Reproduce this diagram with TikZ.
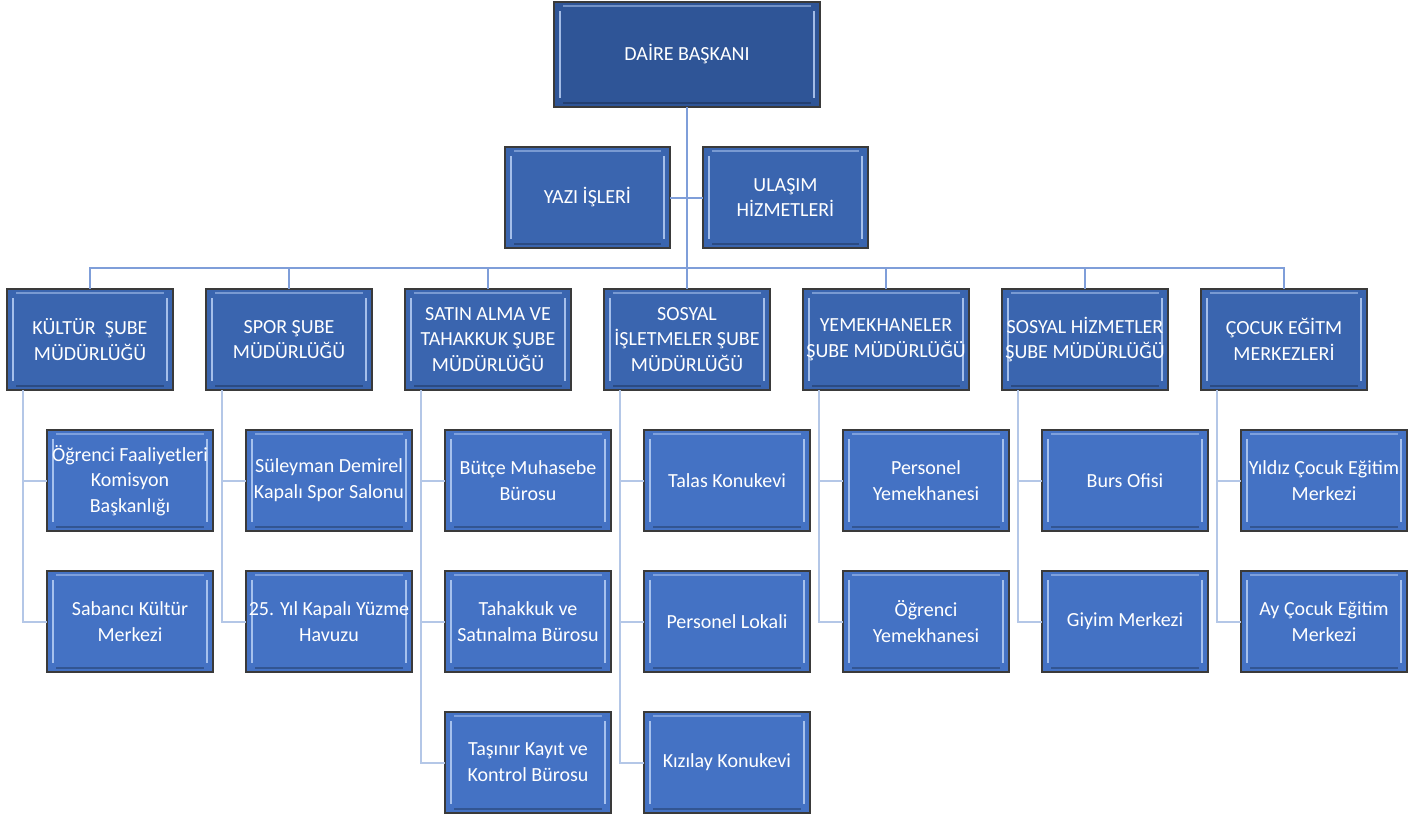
\documentclass[tikz,border=0pt]{standalone}
\usepackage{fontspec}
\setmainfont{Carlito}
\definecolor{topfill}{HTML}{2F5597}
\definecolor{midfill}{HTML}{3A65AF}
\definecolor{childfill}{HTML}{4472C4}
\definecolor{boxborder}{HTML}{3A3A3A}
\definecolor{busline}{HTML}{7F9ED9}
\definecolor{subline}{HTML}{B4C7E7}
\definecolor{hilite}{HTML}{B8CFF5}
\begin{document}
\begin{tikzpicture}[x=1pt,y=-1pt,
  orgbox/.style={draw=boxborder, line width=1.4pt, text=white, align=center,
    font=\fontsize{20}{25.8}\selectfont, inner sep=0pt, outer sep=0pt,
    minimum width=166pt, minimum height=101pt,
    path picture={
      \draw[hilite, line width=2.8pt, opacity=0.85]
        ([xshift=6pt,yshift=-9pt]path picture bounding box.north west) --
        ([xshift=6pt,yshift=9pt]path picture bounding box.south west);
      \draw[hilite, line width=2.8pt, opacity=0.85]
        ([xshift=-6pt,yshift=-9pt]path picture bounding box.north east) --
        ([xshift=-6pt,yshift=9pt]path picture bounding box.south east);
      \draw[hilite, line width=1.2pt, opacity=0.5]
        ([xshift=9pt,yshift=-4pt]path picture bounding box.north west) --
        ([xshift=-9pt,yshift=-4pt]path picture bounding box.north east);
      \draw[black, line width=1.2pt, opacity=0.25]
        ([xshift=9pt,yshift=4pt]path picture bounding box.south west) --
        ([xshift=-9pt,yshift=4pt]path picture bounding box.south east);
    }},
  topbox/.style={orgbox, fill=topfill, minimum width=266pt, minimum height=105pt},
  midbox/.style={orgbox, fill=midfill},
  childbox/.style={orgbox, fill=childfill},
  bus/.style={draw=busline, line width=2pt},
  sub/.style={draw=subline, line width=2pt}
]
\useasboundingbox (0,0) rectangle (1423,814);

% top and assistants
\node[topbox] (top) at (687,54.5) {DAİRE BAŞKANI};
\node[midbox, minimum width=165pt] (yazi) at (587.5,197.5) {YAZI İŞLERİ};
\node[midbox, minimum width=165pt] (ulasim) at (785.5,197.5) {ULAŞIM\\HİZMETLERİ};

% departments
\node[midbox] (d1) at (90,339.5) {KÜLTÜR\ \ ŞUBE\\MÜDÜRLÜĞÜ};
\node[midbox] (d2) at (289,339.5) {SPOR ŞUBE\\MÜDÜRLÜĞÜ};
\node[midbox] (d3) at (488,339.5) {SATIN ALMA VE\\TAHAKKUK ŞUBE\\MÜDÜRLÜĞÜ};
\node[midbox] (d4) at (687,339.5) {SOSYAL\\İŞLETMELER ŞUBE\\MÜDÜRLÜĞÜ};
\node[midbox] (d5) at (886,339.5) {YEMEKHANELER\\ŞUBE MÜDÜRLÜĞÜ};
\node[midbox] (d6) at (1085,339.5) {SOSYAL HİZMETLER\\ŞUBE MÜDÜRLÜĞÜ};
\node[midbox] (d7) at (1284,339.5) {ÇOCUK EĞİTM\\MERKEZLERİ};

% children
\node[childbox] (c11) at (130,480.5) {Öğrenci Faaliyetleri\\Komisyon\\Başkanlığı};
\node[childbox] (c12) at (130,621.5) {Sabancı Kültür\\Merkezi};
\node[childbox] (c21) at (329,480.5) {Süleyman Demirel\\Kapalı Spor Salonu};
\node[childbox] (c22) at (329,621.5) {25. Yıl Kapalı Yüzme\\Havuzu};
\node[childbox] (c31) at (528,480.5) {Bütçe Muhasebe\\Bürosu};
\node[childbox] (c32) at (528,621.5) {Tahakkuk ve\\Satınalma Bürosu};
\node[childbox] (c33) at (528,762.5) {Taşınır Kayıt ve\\Kontrol Bürosu};
\node[childbox] (c41) at (727,480.5) {Talas Konukevi};
\node[childbox] (c42) at (727,621.5) {Personel Lokali};
\node[childbox] (c43) at (727,762.5) {Kızılay Konukevi};
\node[childbox] (c51) at (926,480.5) {Personel\\Yemekhanesi};
\node[childbox] (c52) at (926,621.5) {Öğrenci\\Yemekhanesi};
\node[childbox] (c61) at (1125,480.5) {Burs Ofisi};
\node[childbox] (c62) at (1125,621.5) {Giyim Merkezi};
\node[childbox] (c71) at (1324,480.5) {Yıldız Çocuk Eğitim\\Merkezi};
\node[childbox] (c72) at (1324,621.5) {Ay Çocuk Eğitim\\Merkezi};

% connectors
\coordinate (busy) at (686,268);
\draw[bus] (top.south) -- (top.south |- busy);
\draw[bus] (yazi.east) -- (ulasim.west);
\draw[bus] (d1.north) |- (busy) -| (d7.north);
\foreach \d in {d2,d3,d4,d5,d6}{
  \draw[bus] (\d.north) -- (\d.north |- busy);
}
% child connectors
\draw[sub] ([xshift=16pt]d1.south west) |- (c12.west);
\draw[sub] ([xshift=16pt]d1.south west) |- (c11.west);
\draw[sub] ([xshift=16pt]d2.south west) |- (c22.west);
\draw[sub] ([xshift=16pt]d2.south west) |- (c21.west);
\draw[sub] ([xshift=16pt]d3.south west) |- (c33.west);
\draw[sub] ([xshift=16pt]d3.south west) |- (c32.west);
\draw[sub] ([xshift=16pt]d3.south west) |- (c31.west);
\draw[sub] ([xshift=16pt]d4.south west) |- (c43.west);
\draw[sub] ([xshift=16pt]d4.south west) |- (c42.west);
\draw[sub] ([xshift=16pt]d4.south west) |- (c41.west);
\draw[sub] ([xshift=16pt]d5.south west) |- (c52.west);
\draw[sub] ([xshift=16pt]d5.south west) |- (c51.west);
\draw[sub] ([xshift=16pt]d6.south west) |- (c62.west);
\draw[sub] ([xshift=16pt]d6.south west) |- (c61.west);
\draw[sub] ([xshift=16pt]d7.south west) |- (c72.west);
\draw[sub] ([xshift=16pt]d7.south west) |- (c71.west);
\end{tikzpicture}
\end{document}
